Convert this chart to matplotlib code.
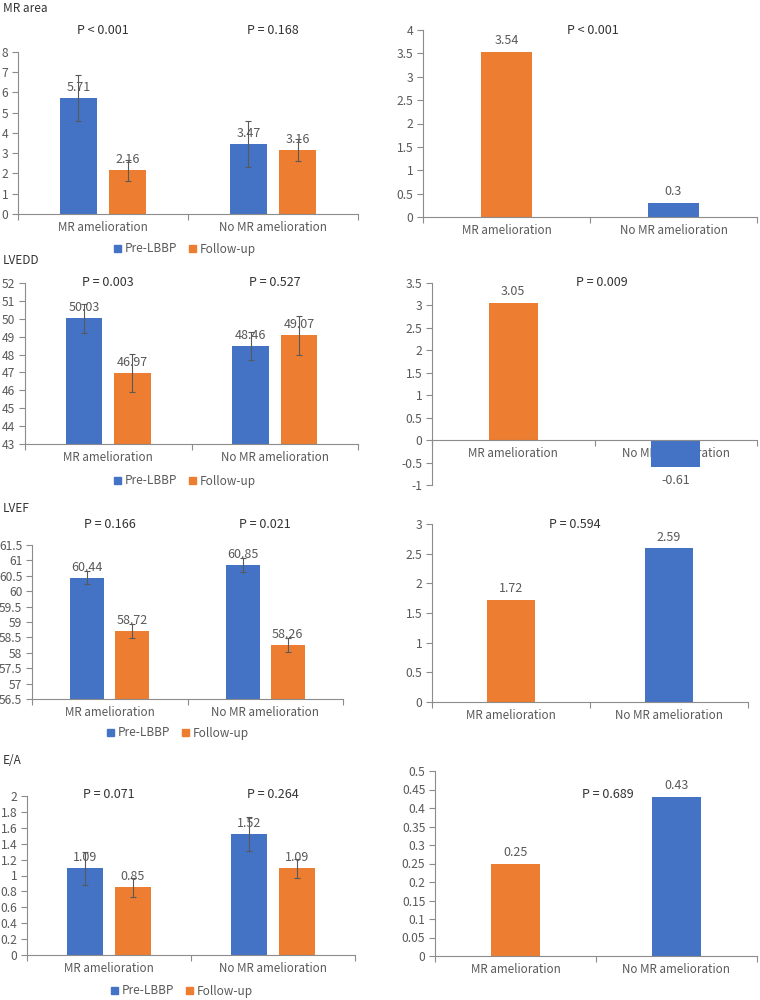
import matplotlib
matplotlib.use("Agg")
import matplotlib.pyplot as plt
import matplotlib.transforms as mtransforms
from matplotlib.patches import Patch
import numpy as np

plt.rcParams['font.family'] = ['Noto Sans CJK SC', 'DejaVu Sans']

# ---------------- data ----------------
categories = ["MR amelioration", "No MR amelioration"]
series_names = ["Pre-LBBP", "Follow-up"]
titles = ["MR area", "LVEDD", "LVEF", "E/A"]

pre_vals = [[5.71, 3.47], [50.03, 48.46], [60.44, 60.85], [1.09, 1.52]]
pre_err = [[1.13, 1.13], [0.82, 0.78], [0.21, 0.22], [0.21, 0.21]]
fu_vals = [[2.16, 3.16], [46.97, 49.07], [58.72, 58.26], [0.85, 1.09]]
fu_err = [[0.51, 0.52], [1.07, 1.07], [0.23, 0.23], [0.12, 0.12]]
left_p = [["P < 0.001", "P = 0.168"], ["P = 0.003", "P = 0.527"],
          ["P = 0.166", "P = 0.021"], ["P = 0.071", "P = 0.264"]]
left_ylim = [(0, 8), (43, 52), (56.5, 61.5), (0, 2)]
left_step = [1, 1, 0.5, 0.2]

diff_vals = [[3.54, 0.3], [3.05, -0.61], [1.72, 2.59], [0.25, 0.43]]
right_p = ["P < 0.001", "P = 0.009", "P = 0.594", "P = 0.689"]
right_ylim = [(0, 4), (-1, 3.5), (0, 3), (0, 0.5)]
right_step = [0.5, 0.5, 0.5, 0.05]

# ---------------- style ----------------
BLUE = "#4472C4"
ORANGE = "#ED7D31"
GRAY = "#595959"
DARK = "#333333"
AXC = "#8C8C8C"
FS = 8.7
W, H = 760, 1000

fig = plt.figure(figsize=(7.6, 10), dpi=100)

def add_ax(l, t, r, b):
    return fig.add_axes([l / W, 1 - b / H, (r - l) / W, (b - t) / H])

def fmt(v):
    s = ("%.2f" % v).rstrip("0").rstrip(".")
    return s

def style(ax, ylim, step):
    ax.set_xlim(-0.5, 1.5)
    ax.set_ylim(*ylim)
    ticks = np.arange(ylim[0], ylim[1] + step / 2, step)
    ax.set_yticks(ticks)
    ax.set_yticklabels([fmt(round(t, 3)) for t in ticks])
    for s in ["top", "right"]:
        ax.spines[s].set_visible(False)
    ax.spines["left"].set_color(AXC)
    ax.spines["bottom"].set_color(AXC)
    ax.spines["left"].set_linewidth(0.8)
    ax.spines["bottom"].set_linewidth(0.8)
    ax.tick_params(axis="y", colors=AXC, labelcolor=GRAY, labelsize=FS, length=4, width=0.8, pad=3)
    ax.set_xticks([-0.5, 0.5, 1.5])
    ax.set_xticklabels([])
    ax.tick_params(axis="x", colors=AXC, length=4, width=0.8)
    ax.set_xticks([0, 1], minor=True)
    ax.set_xticklabels(categories, minor=True)
    ax.tick_params(axis="x", which="minor", length=0, labelsize=8.4, labelcolor=GRAY, pad=5)
    ax.patch.set_alpha(0)

left_boxes = [(18, 52, 358, 214), (25, 283, 358, 444), (32, 545, 343, 699), (27, 796, 355, 955)]
right_boxes = [(423, 30, 757, 217), (432, 283, 757, 485), (432, 524, 748, 702), (435, 771, 757, 956)]
title_y = [9, 261, 508, 761]
left_p_y = [30, 283, 525, 795]
legend_pos = [(185, 249), (185, 481), (178, 733), (182, 991)]
right_p_pos = [(593, 30), (602, 283), (575, 524), (608, 795)]

x = np.arange(len(categories))
bw = 0.22
off = 0.145

for i in range(4):
    # ---------- left panel ----------
    ax = add_ax(*left_boxes[i])
    style(ax, left_ylim[i], left_step[i])
    yr = left_ylim[i][1] - left_ylim[i][0]
    base = left_ylim[i][0]
    for vals, errs, col, dx in [(pre_vals[i], pre_err[i], BLUE, -off), (fu_vals[i], fu_err[i], ORANGE, off)]:
        vals_rel = np.array(vals) - base
        ax.bar(x + dx, vals_rel, bw, bottom=base, color=col, zorder=2)
        ax.errorbar(x + dx, vals, yerr=errs, fmt="none", ecolor="#595959",
                    elinewidth=0.8, capsize=2.5, capthick=0.8, zorder=3)
        for xi, v in zip(x + dx, vals):
            ax.text(xi, v + yr * 0.025, "%.2f" % v, ha="center", va="bottom",
                    color=GRAY, fontsize=9, zorder=4)
    tr = mtransforms.blended_transform_factory(ax.transData, fig.transFigure)
    for xi, p in zip(x, left_p[i]):
        ax.text(xi, 1 - left_p_y[i] / H, p, transform=tr, ha="center", va="center",
                fontsize=9, color=DARK)
    fig.text(3 / W, 1 - title_y[i] / H, titles[i], ha="left", va="center",
             fontsize=8.5, color=DARK)
    lx, ly = legend_pos[i]
    handles = [Patch(color=BLUE, label=series_names[0]), Patch(color=ORANGE, label=series_names[1])]
    fig.legend(handles=handles, loc="center", bbox_to_anchor=(lx / W, 1 - ly / H), ncol=2,
               frameon=False, fontsize=8.5, labelcolor=GRAY, handlelength=0.6, handleheight=0.6,
               handletextpad=0.3, columnspacing=1.0)

    # ---------- right panel ----------
    ax2 = add_ax(*right_boxes[i])
    style(ax2, right_ylim[i], right_step[i])
    yr2 = right_ylim[i][1] - right_ylim[i][0]
    colors = [ORANGE, BLUE]
    ax2.bar(x, diff_vals[i], 0.3, color=colors, zorder=2)
    if right_ylim[i][0] < 0:
        ax2.spines["bottom"].set_position(("data", 0))
    for xi, v in zip(x, diff_vals[i]):
        if v >= 0:
            ax2.text(xi, v + yr2 * 0.025, fmt(v), ha="center", va="bottom", color=GRAY, fontsize=9)
        else:
            ax2.text(xi, v - yr2 * 0.03, fmt(v), ha="center", va="top", color=GRAY, fontsize=9)
    px, py = right_p_pos[i]
    fig.text(px / W, 1 - py / H, right_p[i], ha="center", va="center", fontsize=9, color=DARK)

fig.savefig("out.png", dpi=100)
